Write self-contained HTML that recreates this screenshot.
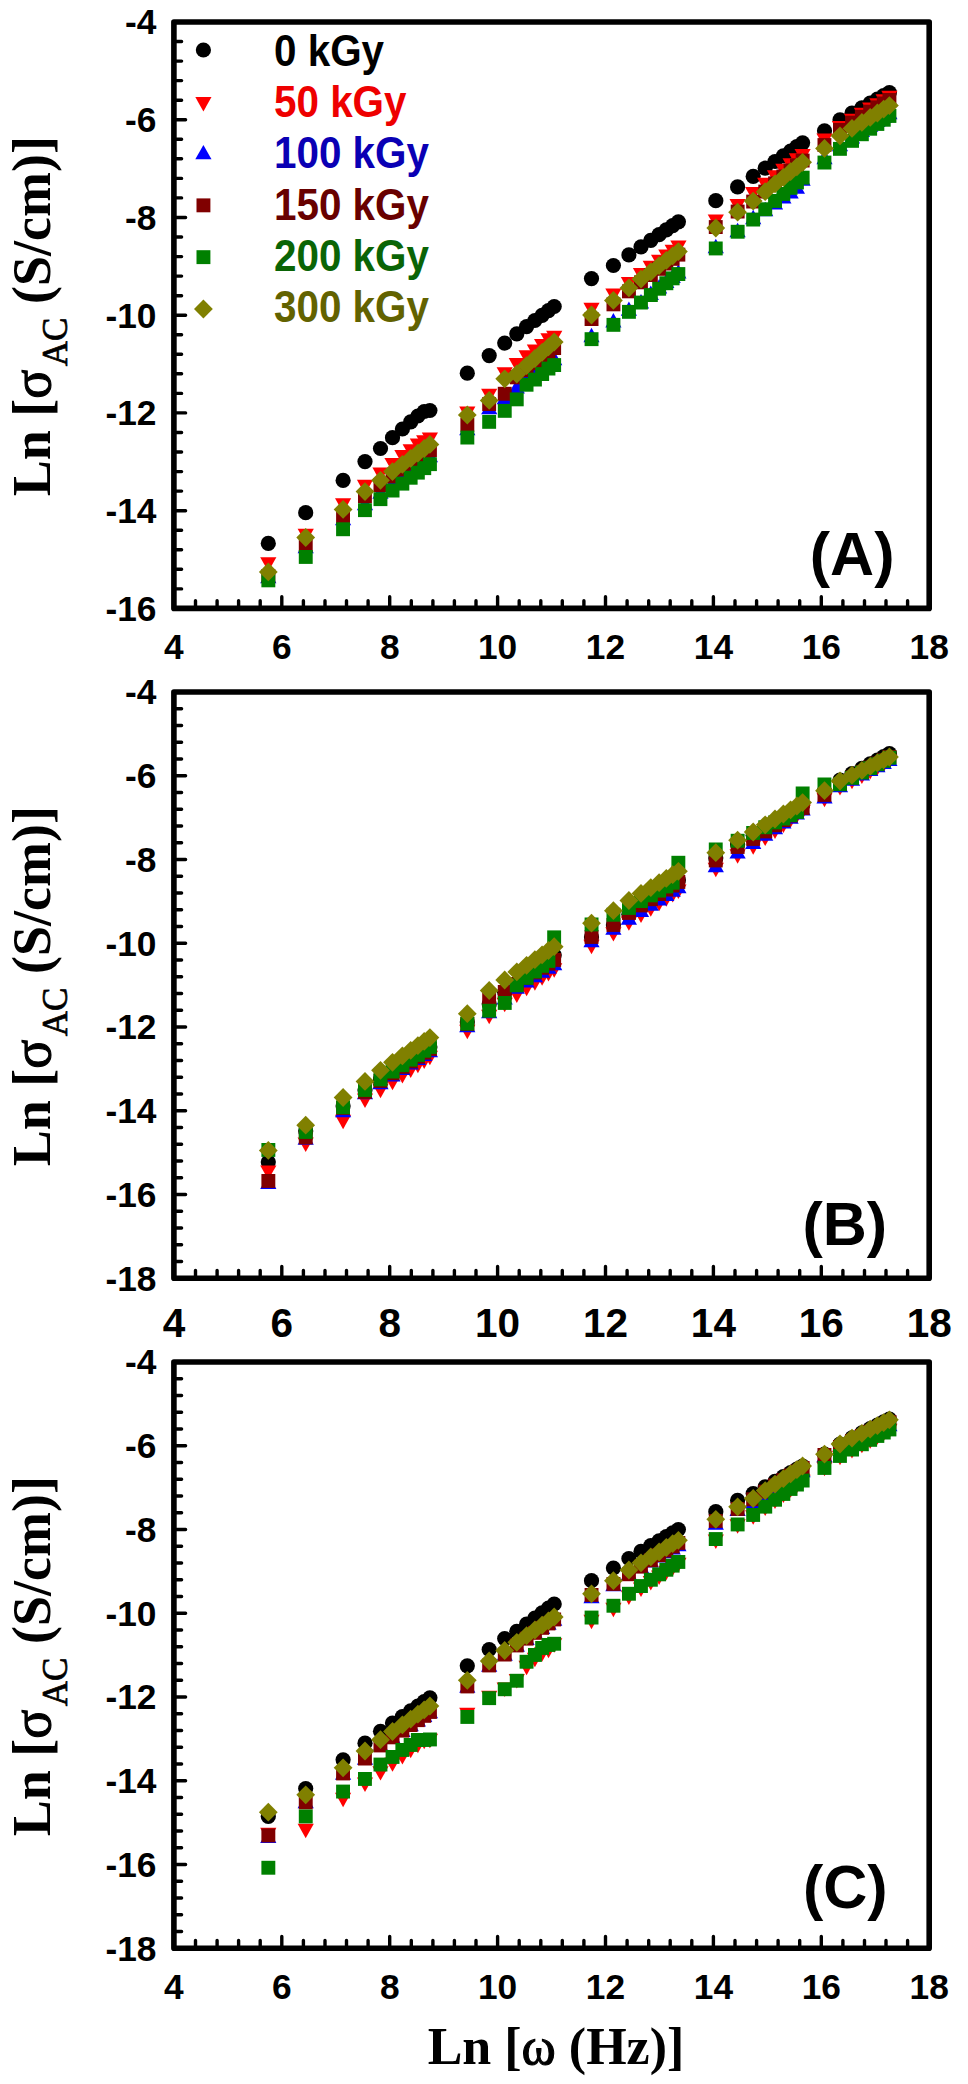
<!DOCTYPE html>
<html><head><meta charset="utf-8"><style>
html,body{margin:0;padding:0;background:#fff;}
svg{display:block;}
.tl{font-family:"Liberation Sans",sans-serif;font-weight:bold;font-size:35.3px;fill:#000;}
.lg{font-family:"Liberation Sans",sans-serif;font-weight:bold;font-size:40.4px;}
.pl{font-family:"Liberation Sans",sans-serif;font-weight:bold;font-size:61px;fill:#000;}
.sg{font-weight:normal;stroke:#000;stroke-width:1.1px;}
.sub{font-size:35px;font-weight:normal;stroke:#000;stroke-width:0.7px;}
.at{font-family:"Liberation Serif",serif;font-weight:bold;font-size:54px;fill:#000;}
</style></head><body>
<svg width="968" height="2084" viewBox="0 0 968 2084">
<path d="M173.9 41.5h7.7M173.9 61.1h7.7M173.9 80.6h7.7M173.9 100.2h7.7M173.9 119.7h11.7M173.9 139.3h7.7M173.9 158.8h7.7M173.9 178.4h7.7M173.9 197.9h7.7M173.9 217.5h11.7M173.9 237.0h7.7M173.9 256.6h7.7M173.9 276.1h7.7M173.9 295.7h7.7M173.9 315.2h11.7M173.9 334.7h7.7M173.9 354.3h7.7M173.9 373.8h7.7M173.9 393.4h7.7M173.9 412.9h11.7M173.9 432.5h7.7M173.9 452.0h7.7M173.9 471.6h7.7M173.9 491.1h7.7M173.9 510.7h11.7M173.9 530.2h7.7M173.9 549.8h7.7M173.9 569.3h7.7M173.9 588.9h7.7M195.5 608.4v-7.7M217.1 608.4v-7.7M238.6 608.4v-7.7M260.2 608.4v-7.7M281.8 608.4v-11.7M303.4 608.4v-7.7M325.0 608.4v-7.7M346.5 608.4v-7.7M368.1 608.4v-7.7M389.7 608.4v-11.7M411.3 608.4v-7.7M432.9 608.4v-7.7M454.4 608.4v-7.7M476.0 608.4v-7.7M497.6 608.4v-11.7M519.2 608.4v-7.7M540.8 608.4v-7.7M562.3 608.4v-7.7M583.9 608.4v-7.7M605.5 608.4v-11.7M627.1 608.4v-7.7M648.7 608.4v-7.7M670.2 608.4v-7.7M691.8 608.4v-7.7M713.4 608.4v-11.7M735.0 608.4v-7.7M756.6 608.4v-7.7M778.1 608.4v-7.7M799.7 608.4v-7.7M821.3 608.4v-11.7M842.9 608.4v-7.7M864.5 608.4v-7.7M886.0 608.4v-7.7M907.6 608.4v-7.7" stroke="#000" stroke-width="3.4" stroke-linecap="round" fill="none"/>
<rect x="173.9" y="22.0" width="755.3" height="586.4" fill="none" stroke="#000" stroke-width="5.6" stroke-linejoin="round"/>
<text x="156.5" y="34.4" class="tl" text-anchor="end">-4</text>
<text x="156.5" y="132.1" class="tl" text-anchor="end">-6</text>
<text x="156.5" y="229.9" class="tl" text-anchor="end">-8</text>
<text x="156.5" y="327.6" class="tl" text-anchor="end">-10</text>
<text x="156.5" y="425.3" class="tl" text-anchor="end">-12</text>
<text x="156.5" y="523.1" class="tl" text-anchor="end">-14</text>
<text x="156.5" y="620.8" class="tl" text-anchor="end">-16</text>
<text x="173.9" y="659.4" class="tl" text-anchor="middle">4</text>
<text x="281.8" y="659.4" class="tl" text-anchor="middle">6</text>
<text x="389.7" y="659.4" class="tl" text-anchor="middle">8</text>
<text x="497.6" y="659.4" class="tl" text-anchor="middle">10</text>
<text x="605.5" y="659.4" class="tl" text-anchor="middle">12</text>
<text x="713.4" y="659.4" class="tl" text-anchor="middle">14</text>
<text x="821.3" y="659.4" class="tl" text-anchor="middle">16</text>
<text x="929.2" y="659.4" class="tl" text-anchor="middle">18</text>
<circle cx="268.3" cy="543.4" r="7.6" fill="#000000"/>
<circle cx="305.7" cy="512.7" r="7.6" fill="#000000"/>
<circle cx="343.1" cy="480.4" r="7.6" fill="#000000"/>
<circle cx="365.0" cy="461.6" r="7.6" fill="#000000"/>
<circle cx="380.5" cy="448.5" r="7.6" fill="#000000"/>
<circle cx="392.5" cy="437.7" r="7.6" fill="#000000"/>
<circle cx="402.4" cy="429.0" r="7.6" fill="#000000"/>
<circle cx="410.7" cy="421.8" r="7.6" fill="#000000"/>
<circle cx="417.9" cy="416.0" r="7.6" fill="#000000"/>
<circle cx="424.2" cy="411.5" r="7.6" fill="#000000"/>
<circle cx="429.9" cy="410.5" r="7.6" fill="#000000"/>
<circle cx="467.3" cy="373.2" r="7.6" fill="#000000"/>
<circle cx="489.2" cy="355.6" r="7.6" fill="#000000"/>
<circle cx="504.7" cy="343.1" r="7.6" fill="#000000"/>
<circle cx="516.8" cy="333.8" r="7.6" fill="#000000"/>
<circle cx="526.6" cy="326.6" r="7.6" fill="#000000"/>
<circle cx="534.9" cy="320.5" r="7.6" fill="#000000"/>
<circle cx="542.1" cy="315.3" r="7.6" fill="#000000"/>
<circle cx="548.5" cy="310.6" r="7.6" fill="#000000"/>
<circle cx="554.2" cy="306.5" r="7.6" fill="#000000"/>
<circle cx="591.5" cy="278.6" r="7.6" fill="#000000"/>
<circle cx="613.4" cy="265.5" r="7.6" fill="#000000"/>
<circle cx="628.9" cy="254.9" r="7.6" fill="#000000"/>
<circle cx="641.0" cy="246.8" r="7.6" fill="#000000"/>
<circle cx="650.8" cy="240.3" r="7.6" fill="#000000"/>
<circle cx="659.1" cy="234.7" r="7.6" fill="#000000"/>
<circle cx="666.3" cy="229.9" r="7.6" fill="#000000"/>
<circle cx="672.7" cy="225.6" r="7.6" fill="#000000"/>
<circle cx="678.4" cy="221.8" r="7.6" fill="#000000"/>
<circle cx="715.8" cy="200.7" r="7.6" fill="#000000"/>
<circle cx="737.6" cy="186.9" r="7.6" fill="#000000"/>
<circle cx="753.2" cy="176.4" r="7.6" fill="#000000"/>
<circle cx="765.2" cy="168.2" r="7.6" fill="#000000"/>
<circle cx="775.0" cy="161.5" r="7.6" fill="#000000"/>
<circle cx="783.4" cy="155.9" r="7.6" fill="#000000"/>
<circle cx="790.6" cy="151.0" r="7.6" fill="#000000"/>
<circle cx="796.9" cy="146.7" r="7.6" fill="#000000"/>
<circle cx="802.6" cy="142.8" r="7.6" fill="#000000"/>
<circle cx="824.5" cy="130.8" r="7.6" fill="#000000"/>
<circle cx="840.0" cy="119.8" r="7.6" fill="#000000"/>
<circle cx="852.0" cy="113.2" r="7.6" fill="#000000"/>
<circle cx="861.9" cy="107.8" r="7.6" fill="#000000"/>
<circle cx="870.2" cy="103.2" r="7.6" fill="#000000"/>
<circle cx="877.4" cy="99.2" r="7.6" fill="#000000"/>
<circle cx="883.7" cy="95.7" r="7.6" fill="#000000"/>
<circle cx="889.4" cy="92.6" r="7.6" fill="#000000"/>
<path d="M260.2 557.2H276.4L268.3 571.6Z" fill="#FF0000"/>
<path d="M297.6 528.8H313.8L305.7 543.2Z" fill="#FF0000"/>
<path d="M335.0 498.3H351.2L343.1 512.7Z" fill="#FF0000"/>
<path d="M356.9 479.8H373.1L365.0 494.2Z" fill="#FF0000"/>
<path d="M372.4 467.5H388.6L380.5 481.9Z" fill="#FF0000"/>
<path d="M384.4 457.9H400.6L392.5 472.3Z" fill="#FF0000"/>
<path d="M394.3 450.1H410.5L402.4 464.5Z" fill="#FF0000"/>
<path d="M402.6 444.2H418.8L410.7 458.6Z" fill="#FF0000"/>
<path d="M409.8 438.4H426.0L417.9 452.8Z" fill="#FF0000"/>
<path d="M416.1 435.2H432.3L424.2 449.6Z" fill="#FF0000"/>
<path d="M421.8 432.4H438.0L429.9 446.8Z" fill="#FF0000"/>
<path d="M459.2 406.6H475.4L467.3 421.0Z" fill="#FF0000"/>
<path d="M481.1 388.7H497.3L489.2 403.1Z" fill="#FF0000"/>
<path d="M496.6 367.2H512.8L504.7 381.6Z" fill="#FF0000"/>
<path d="M508.7 358.1H524.9L516.8 372.5Z" fill="#FF0000"/>
<path d="M518.5 350.3H534.7L526.6 364.7Z" fill="#FF0000"/>
<path d="M526.8 344.5H543.0L534.9 358.9Z" fill="#FF0000"/>
<path d="M534.0 339.1H550.2L542.1 353.5Z" fill="#FF0000"/>
<path d="M540.4 333.3H556.6L548.5 347.7Z" fill="#FF0000"/>
<path d="M546.1 330.8H562.3L554.2 345.2Z" fill="#FF0000"/>
<path d="M583.4 302.8H599.6L591.5 317.2Z" fill="#FF0000"/>
<path d="M605.3 288.4H621.5L613.4 302.8Z" fill="#FF0000"/>
<path d="M620.8 277.0H637.0L628.9 291.4Z" fill="#FF0000"/>
<path d="M632.9 268.1H649.1L641.0 282.5Z" fill="#FF0000"/>
<path d="M642.7 260.8H658.9L650.8 275.2Z" fill="#FF0000"/>
<path d="M651.0 254.7H667.2L659.1 269.1Z" fill="#FF0000"/>
<path d="M658.2 249.4H674.4L666.3 263.8Z" fill="#FF0000"/>
<path d="M664.6 244.7H680.8L672.7 259.1Z" fill="#FF0000"/>
<path d="M670.3 240.5H686.5L678.4 254.9Z" fill="#FF0000"/>
<path d="M707.7 214.4H723.9L715.8 228.8Z" fill="#FF0000"/>
<path d="M729.5 199.1H745.7L737.6 213.5Z" fill="#FF0000"/>
<path d="M745.1 187.1H761.3L753.2 201.5Z" fill="#FF0000"/>
<path d="M757.1 177.8H773.3L765.2 192.2Z" fill="#FF0000"/>
<path d="M766.9 170.2H783.1L775.0 184.6Z" fill="#FF0000"/>
<path d="M775.3 163.8H791.5L783.4 178.2Z" fill="#FF0000"/>
<path d="M782.5 158.2H798.7L790.6 172.6Z" fill="#FF0000"/>
<path d="M788.8 153.3H805.0L796.9 167.7Z" fill="#FF0000"/>
<path d="M794.5 148.9H810.7L802.6 163.3Z" fill="#FF0000"/>
<path d="M816.4 133.6H832.6L824.5 148.0Z" fill="#FF0000"/>
<path d="M831.9 121.1H848.1L840.0 135.5Z" fill="#FF0000"/>
<path d="M843.9 113.7H860.1L852.0 128.1Z" fill="#FF0000"/>
<path d="M853.8 107.7H870.0L861.9 122.1Z" fill="#FF0000"/>
<path d="M862.1 102.6H878.3L870.2 117.0Z" fill="#FF0000"/>
<path d="M869.3 98.2H885.5L877.4 112.6Z" fill="#FF0000"/>
<path d="M875.6 94.3H891.8L883.7 108.7Z" fill="#FF0000"/>
<path d="M881.3 90.8H897.5L889.4 105.2Z" fill="#FF0000"/>
<path d="M260.2 583.2H276.4L268.3 568.8Z" fill="#0000FF"/>
<path d="M297.6 553.2H313.8L305.7 538.8Z" fill="#0000FF"/>
<path d="M335.0 525.2H351.2L343.1 510.8Z" fill="#0000FF"/>
<path d="M356.9 510.2H373.1L365.0 495.8Z" fill="#0000FF"/>
<path d="M372.4 498.7H388.6L380.5 484.3Z" fill="#0000FF"/>
<path d="M384.4 489.8H400.6L392.5 475.4Z" fill="#0000FF"/>
<path d="M394.3 482.6H410.5L402.4 468.2Z" fill="#0000FF"/>
<path d="M402.6 476.4H418.8L410.7 462.0Z" fill="#0000FF"/>
<path d="M409.8 471.1H426.0L417.9 456.7Z" fill="#0000FF"/>
<path d="M416.1 466.4H432.3L424.2 452.0Z" fill="#0000FF"/>
<path d="M421.8 462.2H438.0L429.9 447.8Z" fill="#0000FF"/>
<path d="M459.2 435.2H475.4L467.3 420.8Z" fill="#0000FF"/>
<path d="M481.1 414.2H497.3L489.2 399.8Z" fill="#0000FF"/>
<path d="M496.6 404.2H512.8L504.7 389.8Z" fill="#0000FF"/>
<path d="M508.7 393.5H524.9L516.8 379.1Z" fill="#0000FF"/>
<path d="M518.5 386.1H534.7L526.6 371.7Z" fill="#0000FF"/>
<path d="M526.8 379.8H543.0L534.9 365.4Z" fill="#0000FF"/>
<path d="M534.0 374.3H550.2L542.1 359.9Z" fill="#0000FF"/>
<path d="M540.4 369.5H556.6L548.5 355.1Z" fill="#0000FF"/>
<path d="M546.1 365.2H562.3L554.2 350.8Z" fill="#0000FF"/>
<path d="M583.4 342.2H599.6L591.5 327.8Z" fill="#0000FF"/>
<path d="M605.3 327.5H621.5L613.4 313.1Z" fill="#0000FF"/>
<path d="M620.8 315.8H637.0L628.9 301.4Z" fill="#0000FF"/>
<path d="M632.9 308.4H649.1L641.0 294.0Z" fill="#0000FF"/>
<path d="M642.7 300.0H658.9L650.8 285.6Z" fill="#0000FF"/>
<path d="M651.0 293.5H667.2L659.1 279.1Z" fill="#0000FF"/>
<path d="M658.2 287.9H674.4L666.3 273.5Z" fill="#0000FF"/>
<path d="M664.6 283.0H680.8L672.7 268.6Z" fill="#0000FF"/>
<path d="M670.3 278.6H686.5L678.4 264.2Z" fill="#0000FF"/>
<path d="M707.7 253.2H723.9L715.8 238.8Z" fill="#0000FF"/>
<path d="M729.5 237.2H745.7L737.6 222.8Z" fill="#0000FF"/>
<path d="M745.1 224.2H761.3L753.2 209.8Z" fill="#0000FF"/>
<path d="M757.1 216.2H773.3L765.2 201.8Z" fill="#0000FF"/>
<path d="M766.9 209.6H783.1L775.0 195.2Z" fill="#0000FF"/>
<path d="M775.3 203.6H791.5L783.4 189.2Z" fill="#0000FF"/>
<path d="M782.5 198.4H798.7L790.6 184.0Z" fill="#0000FF"/>
<path d="M788.8 193.8H805.0L796.9 179.4Z" fill="#0000FF"/>
<path d="M794.5 185.7H810.7L802.6 171.3Z" fill="#0000FF"/>
<path d="M816.4 164.2H832.6L824.5 149.8Z" fill="#0000FF"/>
<path d="M831.9 151.2H848.1L840.0 136.8Z" fill="#0000FF"/>
<path d="M843.9 143.4H860.1L852.0 129.0Z" fill="#0000FF"/>
<path d="M853.8 137.0H870.0L861.9 122.6Z" fill="#0000FF"/>
<path d="M862.1 131.7H878.3L870.2 117.3Z" fill="#0000FF"/>
<path d="M869.3 127.0H885.5L877.4 112.6Z" fill="#0000FF"/>
<path d="M875.6 122.9H891.8L883.7 108.5Z" fill="#0000FF"/>
<path d="M881.3 119.2H897.5L889.4 104.8Z" fill="#0000FF"/>
<rect x="261.4" y="569.0" width="13.9" height="13.9" fill="#800000"/>
<rect x="298.8" y="538.0" width="13.9" height="13.9" fill="#800000"/>
<rect x="336.1" y="509.4" width="13.9" height="13.9" fill="#800000"/>
<rect x="358.0" y="489.1" width="13.9" height="13.9" fill="#800000"/>
<rect x="373.5" y="478.1" width="13.9" height="13.9" fill="#800000"/>
<rect x="385.6" y="469.5" width="13.9" height="13.9" fill="#800000"/>
<rect x="395.4" y="462.6" width="13.9" height="13.9" fill="#800000"/>
<rect x="403.7" y="456.7" width="13.9" height="13.9" fill="#800000"/>
<rect x="410.9" y="451.6" width="13.9" height="13.9" fill="#800000"/>
<rect x="417.3" y="447.1" width="13.9" height="13.9" fill="#800000"/>
<rect x="423.0" y="443.1" width="13.9" height="13.9" fill="#800000"/>
<rect x="460.4" y="417.8" width="13.9" height="13.9" fill="#800000"/>
<rect x="482.2" y="397.1" width="13.9" height="13.9" fill="#800000"/>
<rect x="497.8" y="386.8" width="13.9" height="13.9" fill="#800000"/>
<rect x="509.8" y="370.4" width="13.9" height="13.9" fill="#800000"/>
<rect x="519.6" y="363.1" width="13.9" height="13.9" fill="#800000"/>
<rect x="528.0" y="356.4" width="13.9" height="13.9" fill="#800000"/>
<rect x="535.2" y="350.7" width="13.9" height="13.9" fill="#800000"/>
<rect x="541.5" y="345.6" width="13.9" height="13.9" fill="#800000"/>
<rect x="547.2" y="341.1" width="13.9" height="13.9" fill="#800000"/>
<rect x="584.6" y="312.1" width="13.9" height="13.9" fill="#800000"/>
<rect x="606.5" y="297.4" width="13.9" height="13.9" fill="#800000"/>
<rect x="622.0" y="284.4" width="13.9" height="13.9" fill="#800000"/>
<rect x="634.0" y="275.4" width="13.9" height="13.9" fill="#800000"/>
<rect x="643.9" y="268.1" width="13.9" height="13.9" fill="#800000"/>
<rect x="652.2" y="261.9" width="13.9" height="13.9" fill="#800000"/>
<rect x="659.4" y="256.6" width="13.9" height="13.9" fill="#800000"/>
<rect x="665.7" y="251.9" width="13.9" height="13.9" fill="#800000"/>
<rect x="671.4" y="247.7" width="13.9" height="13.9" fill="#800000"/>
<rect x="708.8" y="220.1" width="13.9" height="13.9" fill="#800000"/>
<rect x="730.7" y="204.6" width="13.9" height="13.9" fill="#800000"/>
<rect x="746.2" y="194.6" width="13.9" height="13.9" fill="#800000"/>
<rect x="758.3" y="184.6" width="13.9" height="13.9" fill="#800000"/>
<rect x="768.1" y="176.4" width="13.9" height="13.9" fill="#800000"/>
<rect x="776.4" y="169.5" width="13.9" height="13.9" fill="#800000"/>
<rect x="783.6" y="163.5" width="13.9" height="13.9" fill="#800000"/>
<rect x="790.0" y="158.3" width="13.9" height="13.9" fill="#800000"/>
<rect x="795.7" y="153.6" width="13.9" height="13.9" fill="#800000"/>
<rect x="817.5" y="138.1" width="13.9" height="13.9" fill="#800000"/>
<rect x="833.0" y="123.0" width="13.9" height="13.9" fill="#800000"/>
<rect x="845.1" y="115.7" width="13.9" height="13.9" fill="#800000"/>
<rect x="854.9" y="109.8" width="13.9" height="13.9" fill="#800000"/>
<rect x="863.2" y="104.7" width="13.9" height="13.9" fill="#800000"/>
<rect x="870.4" y="100.4" width="13.9" height="13.9" fill="#800000"/>
<rect x="876.8" y="96.5" width="13.9" height="13.9" fill="#800000"/>
<rect x="882.5" y="93.0" width="13.9" height="13.9" fill="#800000"/>
<rect x="261.4" y="573.4" width="13.9" height="13.9" fill="#008000"/>
<rect x="298.8" y="550.0" width="13.9" height="13.9" fill="#008000"/>
<rect x="336.1" y="522.3" width="13.9" height="13.9" fill="#008000"/>
<rect x="358.0" y="503.2" width="13.9" height="13.9" fill="#008000"/>
<rect x="373.5" y="492.2" width="13.9" height="13.9" fill="#008000"/>
<rect x="385.6" y="483.6" width="13.9" height="13.9" fill="#008000"/>
<rect x="395.4" y="476.7" width="13.9" height="13.9" fill="#008000"/>
<rect x="403.7" y="470.8" width="13.9" height="13.9" fill="#008000"/>
<rect x="410.9" y="465.7" width="13.9" height="13.9" fill="#008000"/>
<rect x="417.3" y="461.2" width="13.9" height="13.9" fill="#008000"/>
<rect x="423.0" y="457.2" width="13.9" height="13.9" fill="#008000"/>
<rect x="460.4" y="430.6" width="13.9" height="13.9" fill="#008000"/>
<rect x="482.2" y="414.9" width="13.9" height="13.9" fill="#008000"/>
<rect x="497.8" y="403.9" width="13.9" height="13.9" fill="#008000"/>
<rect x="509.8" y="392.4" width="13.9" height="13.9" fill="#008000"/>
<rect x="519.6" y="377.8" width="13.9" height="13.9" fill="#008000"/>
<rect x="528.0" y="372.6" width="13.9" height="13.9" fill="#008000"/>
<rect x="535.2" y="367.1" width="13.9" height="13.9" fill="#008000"/>
<rect x="541.5" y="361.6" width="13.9" height="13.9" fill="#008000"/>
<rect x="547.2" y="358.1" width="13.9" height="13.9" fill="#008000"/>
<rect x="584.6" y="332.2" width="13.9" height="13.9" fill="#008000"/>
<rect x="606.5" y="317.9" width="13.9" height="13.9" fill="#008000"/>
<rect x="622.0" y="304.9" width="13.9" height="13.9" fill="#008000"/>
<rect x="634.0" y="295.6" width="13.9" height="13.9" fill="#008000"/>
<rect x="643.9" y="288.1" width="13.9" height="13.9" fill="#008000"/>
<rect x="652.2" y="281.8" width="13.9" height="13.9" fill="#008000"/>
<rect x="659.4" y="276.3" width="13.9" height="13.9" fill="#008000"/>
<rect x="665.7" y="271.4" width="13.9" height="13.9" fill="#008000"/>
<rect x="671.4" y="267.1" width="13.9" height="13.9" fill="#008000"/>
<rect x="708.8" y="241.5" width="13.9" height="13.9" fill="#008000"/>
<rect x="730.7" y="224.8" width="13.9" height="13.9" fill="#008000"/>
<rect x="746.2" y="212.6" width="13.9" height="13.9" fill="#008000"/>
<rect x="758.3" y="202.3" width="13.9" height="13.9" fill="#008000"/>
<rect x="768.1" y="194.0" width="13.9" height="13.9" fill="#008000"/>
<rect x="776.4" y="187.0" width="13.9" height="13.9" fill="#008000"/>
<rect x="783.6" y="180.9" width="13.9" height="13.9" fill="#008000"/>
<rect x="790.0" y="175.5" width="13.9" height="13.9" fill="#008000"/>
<rect x="795.7" y="170.7" width="13.9" height="13.9" fill="#008000"/>
<rect x="817.5" y="155.6" width="13.9" height="13.9" fill="#008000"/>
<rect x="833.0" y="141.9" width="13.9" height="13.9" fill="#008000"/>
<rect x="845.1" y="133.9" width="13.9" height="13.9" fill="#008000"/>
<rect x="854.9" y="127.3" width="13.9" height="13.9" fill="#008000"/>
<rect x="863.2" y="121.8" width="13.9" height="13.9" fill="#008000"/>
<rect x="870.4" y="117.0" width="13.9" height="13.9" fill="#008000"/>
<rect x="876.8" y="112.8" width="13.9" height="13.9" fill="#008000"/>
<rect x="882.5" y="109.0" width="13.9" height="13.9" fill="#008000"/>
<path d="M268.3 562.5L277.7 571.9L268.3 581.3L258.9 571.9Z" fill="#808000"/>
<path d="M305.7 528.1L315.1 537.5L305.7 546.9L296.3 537.5Z" fill="#808000"/>
<path d="M343.1 500.0L352.5 509.4L343.1 518.8L333.7 509.4Z" fill="#808000"/>
<path d="M365.0 482.2L374.4 491.6L365.0 501.0L355.6 491.6Z" fill="#808000"/>
<path d="M380.5 470.9L389.9 480.3L380.5 489.7L371.1 480.3Z" fill="#808000"/>
<path d="M392.5 462.2L401.9 471.6L392.5 481.0L383.1 471.6Z" fill="#808000"/>
<path d="M402.4 455.0L411.8 464.4L402.4 473.8L393.0 464.4Z" fill="#808000"/>
<path d="M410.7 449.0L420.1 458.4L410.7 467.8L401.3 458.4Z" fill="#808000"/>
<path d="M417.9 443.7L427.3 453.1L417.9 462.5L408.5 453.1Z" fill="#808000"/>
<path d="M424.2 439.1L433.6 448.5L424.2 457.9L414.8 448.5Z" fill="#808000"/>
<path d="M429.9 435.0L439.3 444.4L429.9 453.8L420.5 444.4Z" fill="#808000"/>
<path d="M467.3 405.6L476.7 415.0L467.3 424.4L457.9 415.0Z" fill="#808000"/>
<path d="M489.2 391.0L498.6 400.4L489.2 409.8L479.8 400.4Z" fill="#808000"/>
<path d="M504.7 369.4L514.1 378.8L504.7 388.2L495.3 378.8Z" fill="#808000"/>
<path d="M516.8 364.6L526.2 374.0L516.8 383.4L507.4 374.0Z" fill="#808000"/>
<path d="M526.6 356.2L536.0 365.6L526.6 375.0L517.2 365.6Z" fill="#808000"/>
<path d="M534.9 349.1L544.3 358.5L534.9 367.9L525.5 358.5Z" fill="#808000"/>
<path d="M542.1 342.9L551.5 352.3L542.1 361.7L532.7 352.3Z" fill="#808000"/>
<path d="M548.5 337.5L557.9 346.9L548.5 356.3L539.1 346.9Z" fill="#808000"/>
<path d="M554.2 332.6L563.6 342.0L554.2 351.4L544.8 342.0Z" fill="#808000"/>
<path d="M591.5 305.6L600.9 315.0L591.5 324.4L582.1 315.0Z" fill="#808000"/>
<path d="M613.4 291.0L622.8 300.4L613.4 309.8L604.0 300.4Z" fill="#808000"/>
<path d="M628.9 278.5L638.3 287.9L628.9 297.3L619.5 287.9Z" fill="#808000"/>
<path d="M641.0 269.7L650.4 279.1L641.0 288.5L631.6 279.1Z" fill="#808000"/>
<path d="M650.8 262.4L660.2 271.8L650.8 281.2L641.4 271.8Z" fill="#808000"/>
<path d="M659.1 256.3L668.5 265.7L659.1 275.1L649.7 265.7Z" fill="#808000"/>
<path d="M666.3 251.0L675.7 260.4L666.3 269.8L656.9 260.4Z" fill="#808000"/>
<path d="M672.7 246.4L682.1 255.8L672.7 265.2L663.3 255.8Z" fill="#808000"/>
<path d="M678.4 242.2L687.8 251.6L678.4 261.0L669.0 251.6Z" fill="#808000"/>
<path d="M715.8 218.6L725.2 228.0L715.8 237.4L706.4 228.0Z" fill="#808000"/>
<path d="M737.6 202.8L747.0 212.2L737.6 221.6L728.2 212.2Z" fill="#808000"/>
<path d="M753.2 191.7L762.6 201.1L753.2 210.5L743.8 201.1Z" fill="#808000"/>
<path d="M765.2 182.3L774.6 191.7L765.2 201.1L755.8 191.7Z" fill="#808000"/>
<path d="M775.0 174.5L784.4 183.9L775.0 193.3L765.6 183.9Z" fill="#808000"/>
<path d="M783.4 168.0L792.8 177.4L783.4 186.8L774.0 177.4Z" fill="#808000"/>
<path d="M790.6 162.3L800.0 171.7L790.6 181.1L781.2 171.7Z" fill="#808000"/>
<path d="M796.9 157.4L806.3 166.8L796.9 176.2L787.5 166.8Z" fill="#808000"/>
<path d="M802.6 152.9L812.0 162.3L802.6 171.7L793.2 162.3Z" fill="#808000"/>
<path d="M824.5 139.0L833.9 148.4L824.5 157.8L815.1 148.4Z" fill="#808000"/>
<path d="M840.0 126.4L849.4 135.8L840.0 145.2L830.6 135.8Z" fill="#808000"/>
<path d="M852.0 119.0L861.4 128.4L852.0 137.8L842.6 128.4Z" fill="#808000"/>
<path d="M861.9 113.0L871.3 122.4L861.9 131.8L852.5 122.4Z" fill="#808000"/>
<path d="M870.2 108.0L879.6 117.4L870.2 126.8L860.8 117.4Z" fill="#808000"/>
<path d="M877.4 103.6L886.8 113.0L877.4 122.4L868.0 113.0Z" fill="#808000"/>
<path d="M883.7 99.7L893.1 109.1L883.7 118.5L874.3 109.1Z" fill="#808000"/>
<path d="M889.4 96.2L898.8 105.6L889.4 115.0L880.0 105.6Z" fill="#808000"/>
<path d="M173.9 708.7h7.7M173.9 725.5h7.7M173.9 742.2h7.7M173.9 759.0h7.7M173.9 775.7h11.7M173.9 792.5h7.7M173.9 809.2h7.7M173.9 826.0h7.7M173.9 842.7h7.7M173.9 859.5h11.7M173.9 876.2h7.7M173.9 893.0h7.7M173.9 909.7h7.7M173.9 926.5h7.7M173.9 943.2h11.7M173.9 960.0h7.7M173.9 976.7h7.7M173.9 993.5h7.7M173.9 1010.2h7.7M173.9 1027.0h11.7M173.9 1043.7h7.7M173.9 1060.5h7.7M173.9 1077.2h7.7M173.9 1094.0h7.7M173.9 1110.7h11.7M173.9 1127.5h7.7M173.9 1144.2h7.7M173.9 1161.0h7.7M173.9 1177.7h7.7M173.9 1194.5h11.7M173.9 1211.2h7.7M173.9 1228.0h7.7M173.9 1244.7h7.7M173.9 1261.5h7.7M195.5 1278.2v-7.7M217.1 1278.2v-7.7M238.6 1278.2v-7.7M260.2 1278.2v-7.7M281.8 1278.2v-11.7M303.4 1278.2v-7.7M325.0 1278.2v-7.7M346.5 1278.2v-7.7M368.1 1278.2v-7.7M389.7 1278.2v-11.7M411.3 1278.2v-7.7M432.9 1278.2v-7.7M454.4 1278.2v-7.7M476.0 1278.2v-7.7M497.6 1278.2v-11.7M519.2 1278.2v-7.7M540.8 1278.2v-7.7M562.3 1278.2v-7.7M583.9 1278.2v-7.7M605.5 1278.2v-11.7M627.1 1278.2v-7.7M648.7 1278.2v-7.7M670.2 1278.2v-7.7M691.8 1278.2v-7.7M713.4 1278.2v-11.7M735.0 1278.2v-7.7M756.6 1278.2v-7.7M778.1 1278.2v-7.7M799.7 1278.2v-7.7M821.3 1278.2v-11.7M842.9 1278.2v-7.7M864.5 1278.2v-7.7M886.0 1278.2v-7.7M907.6 1278.2v-7.7" stroke="#000" stroke-width="3.4" stroke-linecap="round" fill="none"/>
<rect x="173.9" y="692.0" width="755.3" height="586.2" fill="none" stroke="#000" stroke-width="5.6" stroke-linejoin="round"/>
<text x="156.5" y="704.4" class="tl" text-anchor="end">-4</text>
<text x="156.5" y="788.1" class="tl" text-anchor="end">-6</text>
<text x="156.5" y="871.9" class="tl" text-anchor="end">-8</text>
<text x="156.5" y="955.6" class="tl" text-anchor="end">-10</text>
<text x="156.5" y="1039.4" class="tl" text-anchor="end">-12</text>
<text x="156.5" y="1123.1" class="tl" text-anchor="end">-14</text>
<text x="156.5" y="1206.9" class="tl" text-anchor="end">-16</text>
<text x="156.5" y="1290.6" class="tl" text-anchor="end">-18</text>
<text x="173.9" y="1337.4" class="tl" style="font-size:40.5px" text-anchor="middle">4</text>
<text x="281.8" y="1337.4" class="tl" style="font-size:40.5px" text-anchor="middle">6</text>
<text x="389.7" y="1337.4" class="tl" style="font-size:40.5px" text-anchor="middle">8</text>
<text x="497.6" y="1337.4" class="tl" style="font-size:40.5px" text-anchor="middle">10</text>
<text x="605.5" y="1337.4" class="tl" style="font-size:40.5px" text-anchor="middle">12</text>
<text x="713.4" y="1337.4" class="tl" style="font-size:40.5px" text-anchor="middle">14</text>
<text x="821.3" y="1337.4" class="tl" style="font-size:40.5px" text-anchor="middle">16</text>
<text x="929.2" y="1337.4" class="tl" style="font-size:40.5px" text-anchor="middle">18</text>
<circle cx="268.3" cy="1162.0" r="7.6" fill="#000000"/>
<circle cx="305.7" cy="1131.0" r="7.6" fill="#000000"/>
<circle cx="343.1" cy="1106.0" r="7.6" fill="#000000"/>
<circle cx="365.0" cy="1090.0" r="7.6" fill="#000000"/>
<circle cx="380.5" cy="1079.7" r="7.6" fill="#000000"/>
<circle cx="392.5" cy="1071.8" r="7.6" fill="#000000"/>
<circle cx="402.4" cy="1065.2" r="7.6" fill="#000000"/>
<circle cx="410.7" cy="1059.7" r="7.6" fill="#000000"/>
<circle cx="417.9" cy="1055.0" r="7.6" fill="#000000"/>
<circle cx="424.2" cy="1050.8" r="7.6" fill="#000000"/>
<circle cx="429.9" cy="1047.0" r="7.6" fill="#000000"/>
<circle cx="467.3" cy="1022.0" r="7.6" fill="#000000"/>
<circle cx="489.2" cy="1004.0" r="7.6" fill="#000000"/>
<circle cx="504.7" cy="992.3" r="7.6" fill="#000000"/>
<circle cx="516.8" cy="983.2" r="7.6" fill="#000000"/>
<circle cx="526.6" cy="975.8" r="7.6" fill="#000000"/>
<circle cx="534.9" cy="969.5" r="7.6" fill="#000000"/>
<circle cx="542.1" cy="964.1" r="7.6" fill="#000000"/>
<circle cx="548.5" cy="959.3" r="7.6" fill="#000000"/>
<circle cx="554.2" cy="955.0" r="7.6" fill="#000000"/>
<circle cx="591.5" cy="937.0" r="7.6" fill="#000000"/>
<circle cx="613.4" cy="925.0" r="7.6" fill="#000000"/>
<circle cx="628.9" cy="914.2" r="7.6" fill="#000000"/>
<circle cx="641.0" cy="905.9" r="7.6" fill="#000000"/>
<circle cx="650.8" cy="899.1" r="7.6" fill="#000000"/>
<circle cx="659.1" cy="893.3" r="7.6" fill="#000000"/>
<circle cx="666.3" cy="888.3" r="7.6" fill="#000000"/>
<circle cx="672.7" cy="883.9" r="7.6" fill="#000000"/>
<circle cx="678.4" cy="880.0" r="7.6" fill="#000000"/>
<circle cx="715.8" cy="858.0" r="7.6" fill="#000000"/>
<circle cx="737.6" cy="844.6" r="7.6" fill="#000000"/>
<circle cx="753.2" cy="835.2" r="7.6" fill="#000000"/>
<circle cx="765.2" cy="827.8" r="7.6" fill="#000000"/>
<circle cx="775.0" cy="821.8" r="7.6" fill="#000000"/>
<circle cx="783.4" cy="816.7" r="7.6" fill="#000000"/>
<circle cx="790.6" cy="812.3" r="7.6" fill="#000000"/>
<circle cx="796.9" cy="808.5" r="7.6" fill="#000000"/>
<circle cx="802.6" cy="805.0" r="7.6" fill="#000000"/>
<circle cx="824.5" cy="791.0" r="7.6" fill="#000000"/>
<circle cx="840.0" cy="780.2" r="7.6" fill="#000000"/>
<circle cx="852.0" cy="773.7" r="7.6" fill="#000000"/>
<circle cx="861.9" cy="768.4" r="7.6" fill="#000000"/>
<circle cx="870.2" cy="763.9" r="7.6" fill="#000000"/>
<circle cx="877.4" cy="760.0" r="7.6" fill="#000000"/>
<circle cx="883.7" cy="756.6" r="7.6" fill="#000000"/>
<circle cx="889.4" cy="753.5" r="7.6" fill="#000000"/>
<path d="M260.2 1165.4H276.4L268.3 1179.8Z" fill="#FF0000"/>
<path d="M297.6 1137.5H313.8L305.7 1151.9Z" fill="#FF0000"/>
<path d="M335.0 1114.8H351.2L343.1 1129.2Z" fill="#FF0000"/>
<path d="M356.9 1093.5H373.1L365.0 1107.9Z" fill="#FF0000"/>
<path d="M372.4 1083.8H388.6L380.5 1098.2Z" fill="#FF0000"/>
<path d="M384.4 1075.8H400.6L392.5 1090.2Z" fill="#FF0000"/>
<path d="M394.3 1069.2H410.5L402.4 1083.6Z" fill="#FF0000"/>
<path d="M402.6 1063.6H418.8L410.7 1078.0Z" fill="#FF0000"/>
<path d="M409.8 1058.8H426.0L417.9 1073.2Z" fill="#FF0000"/>
<path d="M416.1 1054.6H432.3L424.2 1069.0Z" fill="#FF0000"/>
<path d="M421.8 1050.8H438.0L429.9 1065.2Z" fill="#FF0000"/>
<path d="M459.2 1024.8H475.4L467.3 1039.2Z" fill="#FF0000"/>
<path d="M481.1 1009.8H497.3L489.2 1024.2Z" fill="#FF0000"/>
<path d="M496.6 997.8H512.8L504.7 1012.2Z" fill="#FF0000"/>
<path d="M508.7 988.5H524.9L516.8 1002.9Z" fill="#FF0000"/>
<path d="M518.5 981.9H534.7L526.6 996.3Z" fill="#FF0000"/>
<path d="M526.8 976.3H543.0L534.9 990.7Z" fill="#FF0000"/>
<path d="M534.0 971.4H550.2L542.1 985.8Z" fill="#FF0000"/>
<path d="M540.4 967.1H556.6L548.5 981.5Z" fill="#FF0000"/>
<path d="M546.1 963.3H562.3L554.2 977.7Z" fill="#FF0000"/>
<path d="M583.4 939.8H599.6L591.5 954.2Z" fill="#FF0000"/>
<path d="M605.3 927.2H621.5L613.4 941.6Z" fill="#FF0000"/>
<path d="M620.8 916.4H637.0L628.9 930.8Z" fill="#FF0000"/>
<path d="M632.9 908.6H649.1L641.0 923.0Z" fill="#FF0000"/>
<path d="M642.7 902.3H658.9L650.8 916.7Z" fill="#FF0000"/>
<path d="M651.0 896.9H667.2L659.1 911.3Z" fill="#FF0000"/>
<path d="M658.2 892.3H674.4L666.3 906.7Z" fill="#FF0000"/>
<path d="M664.6 888.2H680.8L672.7 902.6Z" fill="#FF0000"/>
<path d="M670.3 884.5H686.5L678.4 898.9Z" fill="#FF0000"/>
<path d="M707.7 862.8H723.9L715.8 877.2Z" fill="#FF0000"/>
<path d="M729.5 849.3H745.7L737.6 863.7Z" fill="#FF0000"/>
<path d="M745.1 840.3H761.3L753.2 854.7Z" fill="#FF0000"/>
<path d="M757.1 831.7H773.3L765.2 846.1Z" fill="#FF0000"/>
<path d="M766.9 824.6H783.1L775.0 839.0Z" fill="#FF0000"/>
<path d="M775.3 818.6H791.5L783.4 833.0Z" fill="#FF0000"/>
<path d="M782.5 813.4H798.7L790.6 827.8Z" fill="#FF0000"/>
<path d="M788.8 808.9H805.0L796.9 823.3Z" fill="#FF0000"/>
<path d="M794.5 804.8H810.7L802.6 819.2Z" fill="#FF0000"/>
<path d="M816.4 792.8H832.6L824.5 807.2Z" fill="#FF0000"/>
<path d="M831.9 781.2H848.1L840.0 795.6Z" fill="#FF0000"/>
<path d="M843.9 774.8H860.1L852.0 789.2Z" fill="#FF0000"/>
<path d="M853.8 769.5H870.0L861.9 783.9Z" fill="#FF0000"/>
<path d="M862.1 765.1H878.3L870.2 779.5Z" fill="#FF0000"/>
<path d="M869.3 761.2H885.5L877.4 775.6Z" fill="#FF0000"/>
<path d="M875.6 757.8H891.8L883.7 772.2Z" fill="#FF0000"/>
<path d="M881.3 754.8H897.5L889.4 769.2Z" fill="#FF0000"/>
<path d="M260.2 1188.9H276.4L268.3 1174.5Z" fill="#0000FF"/>
<path d="M297.6 1144.7H313.8L305.7 1130.3Z" fill="#0000FF"/>
<path d="M335.0 1117.2H351.2L343.1 1102.8Z" fill="#0000FF"/>
<path d="M356.9 1099.2H373.1L365.0 1084.8Z" fill="#0000FF"/>
<path d="M372.4 1089.2H388.6L380.5 1074.8Z" fill="#0000FF"/>
<path d="M384.4 1081.4H400.6L392.5 1067.0Z" fill="#0000FF"/>
<path d="M394.3 1075.0H410.5L402.4 1060.6Z" fill="#0000FF"/>
<path d="M402.6 1069.6H418.8L410.7 1055.2Z" fill="#0000FF"/>
<path d="M409.8 1065.0H426.0L417.9 1050.6Z" fill="#0000FF"/>
<path d="M416.1 1060.9H432.3L424.2 1046.5Z" fill="#0000FF"/>
<path d="M421.8 1057.2H438.0L429.9 1042.8Z" fill="#0000FF"/>
<path d="M459.2 1032.2H475.4L467.3 1017.8Z" fill="#0000FF"/>
<path d="M481.1 1018.2H497.3L489.2 1003.8Z" fill="#0000FF"/>
<path d="M496.6 1004.5H512.8L504.7 990.1Z" fill="#0000FF"/>
<path d="M508.7 993.8H524.9L516.8 979.4Z" fill="#0000FF"/>
<path d="M518.5 987.6H534.7L526.6 973.2Z" fill="#0000FF"/>
<path d="M526.8 982.3H543.0L534.9 967.9Z" fill="#0000FF"/>
<path d="M534.0 977.8H550.2L542.1 963.4Z" fill="#0000FF"/>
<path d="M540.4 973.8H556.6L548.5 959.4Z" fill="#0000FF"/>
<path d="M546.1 970.2H562.3L554.2 955.8Z" fill="#0000FF"/>
<path d="M583.4 947.2H599.6L591.5 932.8Z" fill="#0000FF"/>
<path d="M605.3 934.8H621.5L613.4 920.4Z" fill="#0000FF"/>
<path d="M620.8 924.7H637.0L628.9 910.3Z" fill="#0000FF"/>
<path d="M632.9 917.0H649.1L641.0 902.6Z" fill="#0000FF"/>
<path d="M642.7 910.8H658.9L650.8 896.4Z" fill="#0000FF"/>
<path d="M651.0 905.5H667.2L659.1 891.1Z" fill="#0000FF"/>
<path d="M658.2 900.9H674.4L666.3 886.5Z" fill="#0000FF"/>
<path d="M664.6 896.8H680.8L672.7 882.4Z" fill="#0000FF"/>
<path d="M670.3 893.2H686.5L678.4 878.8Z" fill="#0000FF"/>
<path d="M707.7 872.2H723.9L715.8 857.8Z" fill="#0000FF"/>
<path d="M729.5 858.6H745.7L737.6 844.2Z" fill="#0000FF"/>
<path d="M745.1 849.0H761.3L753.2 834.6Z" fill="#0000FF"/>
<path d="M757.1 840.8H773.3L765.2 826.4Z" fill="#0000FF"/>
<path d="M766.9 834.2H783.1L775.0 819.8Z" fill="#0000FF"/>
<path d="M775.3 828.5H791.5L783.4 814.1Z" fill="#0000FF"/>
<path d="M782.5 823.7H798.7L790.6 809.3Z" fill="#0000FF"/>
<path d="M788.8 819.4H805.0L796.9 805.0Z" fill="#0000FF"/>
<path d="M794.5 815.5H810.7L802.6 801.1Z" fill="#0000FF"/>
<path d="M816.4 803.5H832.6L824.5 789.1Z" fill="#0000FF"/>
<path d="M831.9 792.2H848.1L840.0 777.8Z" fill="#0000FF"/>
<path d="M843.9 785.8H860.1L852.0 771.4Z" fill="#0000FF"/>
<path d="M853.8 780.6H870.0L861.9 766.2Z" fill="#0000FF"/>
<path d="M862.1 776.1H878.3L870.2 761.7Z" fill="#0000FF"/>
<path d="M869.3 772.3H885.5L877.4 757.9Z" fill="#0000FF"/>
<path d="M875.6 768.9H891.8L883.7 754.5Z" fill="#0000FF"/>
<path d="M881.3 765.9H897.5L889.4 751.5Z" fill="#0000FF"/>
<rect x="261.4" y="1174.0" width="13.9" height="13.9" fill="#800000"/>
<rect x="298.8" y="1130.5" width="13.9" height="13.9" fill="#800000"/>
<rect x="336.1" y="1101.0" width="13.9" height="13.9" fill="#800000"/>
<rect x="358.0" y="1085.0" width="13.9" height="13.9" fill="#800000"/>
<rect x="373.5" y="1074.0" width="13.9" height="13.9" fill="#800000"/>
<rect x="385.6" y="1066.3" width="13.9" height="13.9" fill="#800000"/>
<rect x="395.4" y="1059.9" width="13.9" height="13.9" fill="#800000"/>
<rect x="403.7" y="1054.5" width="13.9" height="13.9" fill="#800000"/>
<rect x="410.9" y="1049.8" width="13.9" height="13.9" fill="#800000"/>
<rect x="417.3" y="1045.7" width="13.9" height="13.9" fill="#800000"/>
<rect x="423.0" y="1042.0" width="13.9" height="13.9" fill="#800000"/>
<rect x="460.4" y="1017.0" width="13.9" height="13.9" fill="#800000"/>
<rect x="482.2" y="993.0" width="13.9" height="13.9" fill="#800000"/>
<rect x="497.8" y="985.0" width="13.9" height="13.9" fill="#800000"/>
<rect x="509.8" y="977.3" width="13.9" height="13.9" fill="#800000"/>
<rect x="519.6" y="970.9" width="13.9" height="13.9" fill="#800000"/>
<rect x="528.0" y="965.5" width="13.9" height="13.9" fill="#800000"/>
<rect x="535.2" y="960.8" width="13.9" height="13.9" fill="#800000"/>
<rect x="541.5" y="956.7" width="13.9" height="13.9" fill="#800000"/>
<rect x="547.2" y="953.0" width="13.9" height="13.9" fill="#800000"/>
<rect x="584.6" y="930.0" width="13.9" height="13.9" fill="#800000"/>
<rect x="606.5" y="918.0" width="13.9" height="13.9" fill="#800000"/>
<rect x="622.0" y="906.0" width="13.9" height="13.9" fill="#800000"/>
<rect x="634.0" y="898.5" width="13.9" height="13.9" fill="#800000"/>
<rect x="643.9" y="892.3" width="13.9" height="13.9" fill="#800000"/>
<rect x="652.2" y="887.1" width="13.9" height="13.9" fill="#800000"/>
<rect x="659.4" y="882.6" width="13.9" height="13.9" fill="#800000"/>
<rect x="665.7" y="878.6" width="13.9" height="13.9" fill="#800000"/>
<rect x="671.4" y="875.0" width="13.9" height="13.9" fill="#800000"/>
<rect x="708.8" y="853.5" width="13.9" height="13.9" fill="#800000"/>
<rect x="730.7" y="840.0" width="13.9" height="13.9" fill="#800000"/>
<rect x="746.2" y="832.0" width="13.9" height="13.9" fill="#800000"/>
<rect x="758.3" y="824.5" width="13.9" height="13.9" fill="#800000"/>
<rect x="768.1" y="818.3" width="13.9" height="13.9" fill="#800000"/>
<rect x="776.4" y="813.1" width="13.9" height="13.9" fill="#800000"/>
<rect x="783.6" y="808.6" width="13.9" height="13.9" fill="#800000"/>
<rect x="790.0" y="804.6" width="13.9" height="13.9" fill="#800000"/>
<rect x="795.7" y="801.0" width="13.9" height="13.9" fill="#800000"/>
<rect x="817.5" y="788.0" width="13.9" height="13.9" fill="#800000"/>
<rect x="833.0" y="777.0" width="13.9" height="13.9" fill="#800000"/>
<rect x="845.1" y="770.5" width="13.9" height="13.9" fill="#800000"/>
<rect x="854.9" y="765.1" width="13.9" height="13.9" fill="#800000"/>
<rect x="863.2" y="760.6" width="13.9" height="13.9" fill="#800000"/>
<rect x="870.4" y="756.6" width="13.9" height="13.9" fill="#800000"/>
<rect x="876.8" y="753.2" width="13.9" height="13.9" fill="#800000"/>
<rect x="882.5" y="750.0" width="13.9" height="13.9" fill="#800000"/>
<rect x="261.4" y="1143.0" width="13.9" height="13.9" fill="#008000"/>
<rect x="298.8" y="1125.0" width="13.9" height="13.9" fill="#008000"/>
<rect x="336.1" y="1100.3" width="13.9" height="13.9" fill="#008000"/>
<rect x="358.0" y="1083.0" width="13.9" height="13.9" fill="#008000"/>
<rect x="373.5" y="1072.5" width="13.9" height="13.9" fill="#008000"/>
<rect x="385.6" y="1064.6" width="13.9" height="13.9" fill="#008000"/>
<rect x="395.4" y="1058.2" width="13.9" height="13.9" fill="#008000"/>
<rect x="403.7" y="1052.7" width="13.9" height="13.9" fill="#008000"/>
<rect x="410.9" y="1048.0" width="13.9" height="13.9" fill="#008000"/>
<rect x="417.3" y="1043.8" width="13.9" height="13.9" fill="#008000"/>
<rect x="423.0" y="1040.0" width="13.9" height="13.9" fill="#008000"/>
<rect x="460.4" y="1016.6" width="13.9" height="13.9" fill="#008000"/>
<rect x="482.2" y="1003.8" width="13.9" height="13.9" fill="#008000"/>
<rect x="497.8" y="996.0" width="13.9" height="13.9" fill="#008000"/>
<rect x="509.8" y="978.4" width="13.9" height="13.9" fill="#008000"/>
<rect x="519.6" y="970.9" width="13.9" height="13.9" fill="#008000"/>
<rect x="528.0" y="964.5" width="13.9" height="13.9" fill="#008000"/>
<rect x="535.2" y="958.9" width="13.9" height="13.9" fill="#008000"/>
<rect x="541.5" y="954.0" width="13.9" height="13.9" fill="#008000"/>
<rect x="547.2" y="930.4" width="13.9" height="13.9" fill="#008000"/>
<rect x="584.6" y="917.5" width="13.9" height="13.9" fill="#008000"/>
<rect x="606.5" y="907.8" width="13.9" height="13.9" fill="#008000"/>
<rect x="622.0" y="901.0" width="13.9" height="13.9" fill="#008000"/>
<rect x="634.0" y="894.1" width="13.9" height="13.9" fill="#008000"/>
<rect x="643.9" y="888.4" width="13.9" height="13.9" fill="#008000"/>
<rect x="652.2" y="883.7" width="13.9" height="13.9" fill="#008000"/>
<rect x="659.4" y="879.5" width="13.9" height="13.9" fill="#008000"/>
<rect x="665.7" y="875.8" width="13.9" height="13.9" fill="#008000"/>
<rect x="671.4" y="855.8" width="13.9" height="13.9" fill="#008000"/>
<rect x="708.8" y="842.5" width="13.9" height="13.9" fill="#008000"/>
<rect x="730.7" y="833.8" width="13.9" height="13.9" fill="#008000"/>
<rect x="746.2" y="826.0" width="13.9" height="13.9" fill="#008000"/>
<rect x="758.3" y="820.3" width="13.9" height="13.9" fill="#008000"/>
<rect x="768.1" y="815.5" width="13.9" height="13.9" fill="#008000"/>
<rect x="776.4" y="811.6" width="13.9" height="13.9" fill="#008000"/>
<rect x="783.6" y="808.1" width="13.9" height="13.9" fill="#008000"/>
<rect x="790.0" y="805.0" width="13.9" height="13.9" fill="#008000"/>
<rect x="795.7" y="786.5" width="13.9" height="13.9" fill="#008000"/>
<rect x="817.5" y="777.5" width="13.9" height="13.9" fill="#008000"/>
<rect x="833.0" y="777.3" width="13.9" height="13.9" fill="#008000"/>
<rect x="845.1" y="770.9" width="13.9" height="13.9" fill="#008000"/>
<rect x="854.9" y="765.6" width="13.9" height="13.9" fill="#008000"/>
<rect x="863.2" y="761.2" width="13.9" height="13.9" fill="#008000"/>
<rect x="870.4" y="757.3" width="13.9" height="13.9" fill="#008000"/>
<rect x="876.8" y="753.9" width="13.9" height="13.9" fill="#008000"/>
<rect x="882.5" y="750.8" width="13.9" height="13.9" fill="#008000"/>
<path d="M268.3 1141.0L277.7 1150.4L268.3 1159.8L258.9 1150.4Z" fill="#808000"/>
<path d="M305.7 1115.8L315.1 1125.2L305.7 1134.6L296.3 1125.2Z" fill="#808000"/>
<path d="M343.1 1088.1L352.5 1097.5L343.1 1106.9L333.7 1097.5Z" fill="#808000"/>
<path d="M365.0 1072.0L374.4 1081.4L365.0 1090.8L355.6 1081.4Z" fill="#808000"/>
<path d="M380.5 1060.9L389.9 1070.3L380.5 1079.7L371.1 1070.3Z" fill="#808000"/>
<path d="M392.5 1052.9L401.9 1062.3L392.5 1071.7L383.1 1062.3Z" fill="#808000"/>
<path d="M402.4 1046.4L411.8 1055.8L402.4 1065.2L393.0 1055.8Z" fill="#808000"/>
<path d="M410.7 1040.9L420.1 1050.3L410.7 1059.7L401.3 1050.3Z" fill="#808000"/>
<path d="M417.9 1036.2L427.3 1045.6L417.9 1055.0L408.5 1045.6Z" fill="#808000"/>
<path d="M424.2 1032.0L433.6 1041.4L424.2 1050.8L414.8 1041.4Z" fill="#808000"/>
<path d="M429.9 1028.2L439.3 1037.6L429.9 1047.0L420.5 1037.6Z" fill="#808000"/>
<path d="M467.3 1004.3L476.7 1013.7L467.3 1023.1L457.9 1013.7Z" fill="#808000"/>
<path d="M489.2 981.1L498.6 990.5L489.2 999.9L479.8 990.5Z" fill="#808000"/>
<path d="M504.7 970.6L514.1 980.0L504.7 989.4L495.3 980.0Z" fill="#808000"/>
<path d="M516.8 962.5L526.2 971.9L516.8 981.3L507.4 971.9Z" fill="#808000"/>
<path d="M526.6 955.9L536.0 965.3L526.6 974.7L517.2 965.3Z" fill="#808000"/>
<path d="M534.9 950.3L544.3 959.7L534.9 969.1L525.5 959.7Z" fill="#808000"/>
<path d="M542.1 945.4L551.5 954.8L542.1 964.2L532.7 954.8Z" fill="#808000"/>
<path d="M548.5 941.1L557.9 950.5L548.5 959.9L539.1 950.5Z" fill="#808000"/>
<path d="M554.2 937.3L563.6 946.7L554.2 956.1L544.8 946.7Z" fill="#808000"/>
<path d="M591.5 913.8L600.9 923.2L591.5 932.6L582.1 923.2Z" fill="#808000"/>
<path d="M613.4 901.3L622.8 910.7L613.4 920.1L604.0 910.7Z" fill="#808000"/>
<path d="M628.9 891.1L638.3 900.5L628.9 909.9L619.5 900.5Z" fill="#808000"/>
<path d="M641.0 884.0L650.4 893.4L641.0 902.8L631.6 893.4Z" fill="#808000"/>
<path d="M650.8 878.2L660.2 887.6L650.8 897.0L641.4 887.6Z" fill="#808000"/>
<path d="M659.1 873.3L668.5 882.7L659.1 892.1L649.7 882.7Z" fill="#808000"/>
<path d="M666.3 869.0L675.7 878.4L666.3 887.8L656.9 878.4Z" fill="#808000"/>
<path d="M672.7 865.3L682.1 874.7L672.7 884.1L663.3 874.7Z" fill="#808000"/>
<path d="M678.4 861.9L687.8 871.3L678.4 880.7L669.0 871.3Z" fill="#808000"/>
<path d="M715.8 843.3L725.2 852.7L715.8 862.1L706.4 852.7Z" fill="#808000"/>
<path d="M737.6 830.8L747.0 840.2L737.6 849.6L728.2 840.2Z" fill="#808000"/>
<path d="M753.2 822.6L762.6 832.0L753.2 841.4L743.8 832.0Z" fill="#808000"/>
<path d="M765.2 815.4L774.6 824.8L765.2 834.2L755.8 824.8Z" fill="#808000"/>
<path d="M775.0 809.6L784.4 819.0L775.0 828.4L765.6 819.0Z" fill="#808000"/>
<path d="M783.4 804.6L792.8 814.0L783.4 823.4L774.0 814.0Z" fill="#808000"/>
<path d="M790.6 800.4L800.0 809.8L790.6 819.2L781.2 809.8Z" fill="#808000"/>
<path d="M796.9 796.6L806.3 806.0L796.9 815.4L787.5 806.0Z" fill="#808000"/>
<path d="M802.6 793.2L812.0 802.6L802.6 812.0L793.2 802.6Z" fill="#808000"/>
<path d="M824.5 781.3L833.9 790.7L824.5 800.1L815.1 790.7Z" fill="#808000"/>
<path d="M840.0 771.6L849.4 781.0L840.0 790.4L830.6 781.0Z" fill="#808000"/>
<path d="M852.0 765.8L861.4 775.2L852.0 784.6L842.6 775.2Z" fill="#808000"/>
<path d="M861.9 761.0L871.3 770.4L861.9 779.8L852.5 770.4Z" fill="#808000"/>
<path d="M870.2 756.9L879.6 766.3L870.2 775.7L860.8 766.3Z" fill="#808000"/>
<path d="M877.4 753.4L886.8 762.8L877.4 772.2L868.0 762.8Z" fill="#808000"/>
<path d="M883.7 750.4L893.1 759.8L883.7 769.2L874.3 759.8Z" fill="#808000"/>
<path d="M889.4 747.6L898.8 757.0L889.4 766.4L880.0 757.0Z" fill="#808000"/>
<path d="M173.9 1378.7h7.7M173.9 1395.5h7.7M173.9 1412.2h7.7M173.9 1429.0h7.7M173.9 1445.7h11.7M173.9 1462.5h7.7M173.9 1479.2h7.7M173.9 1496.0h7.7M173.9 1512.7h7.7M173.9 1529.5h11.7M173.9 1546.2h7.7M173.9 1563.0h7.7M173.9 1579.7h7.7M173.9 1596.5h7.7M173.9 1613.2h11.7M173.9 1630.0h7.7M173.9 1646.7h7.7M173.9 1663.5h7.7M173.9 1680.2h7.7M173.9 1697.0h11.7M173.9 1713.7h7.7M173.9 1730.5h7.7M173.9 1747.2h7.7M173.9 1764.0h7.7M173.9 1780.7h11.7M173.9 1797.5h7.7M173.9 1814.2h7.7M173.9 1831.0h7.7M173.9 1847.7h7.7M173.9 1864.5h11.7M173.9 1881.2h7.7M173.9 1898.0h7.7M173.9 1914.7h7.7M173.9 1931.5h7.7M195.5 1948.2v-7.7M217.1 1948.2v-7.7M238.6 1948.2v-7.7M260.2 1948.2v-7.7M281.8 1948.2v-11.7M303.4 1948.2v-7.7M325.0 1948.2v-7.7M346.5 1948.2v-7.7M368.1 1948.2v-7.7M389.7 1948.2v-11.7M411.3 1948.2v-7.7M432.9 1948.2v-7.7M454.4 1948.2v-7.7M476.0 1948.2v-7.7M497.6 1948.2v-11.7M519.2 1948.2v-7.7M540.8 1948.2v-7.7M562.3 1948.2v-7.7M583.9 1948.2v-7.7M605.5 1948.2v-11.7M627.1 1948.2v-7.7M648.7 1948.2v-7.7M670.2 1948.2v-7.7M691.8 1948.2v-7.7M713.4 1948.2v-11.7M735.0 1948.2v-7.7M756.6 1948.2v-7.7M778.1 1948.2v-7.7M799.7 1948.2v-7.7M821.3 1948.2v-11.7M842.9 1948.2v-7.7M864.5 1948.2v-7.7M886.0 1948.2v-7.7M907.6 1948.2v-7.7" stroke="#000" stroke-width="3.4" stroke-linecap="round" fill="none"/>
<rect x="173.9" y="1362.0" width="755.3" height="586.2" fill="none" stroke="#000" stroke-width="5.6" stroke-linejoin="round"/>
<text x="156.5" y="1374.4" class="tl" text-anchor="end">-4</text>
<text x="156.5" y="1458.1" class="tl" text-anchor="end">-6</text>
<text x="156.5" y="1541.9" class="tl" text-anchor="end">-8</text>
<text x="156.5" y="1625.6" class="tl" text-anchor="end">-10</text>
<text x="156.5" y="1709.4" class="tl" text-anchor="end">-12</text>
<text x="156.5" y="1793.1" class="tl" text-anchor="end">-14</text>
<text x="156.5" y="1876.9" class="tl" text-anchor="end">-16</text>
<text x="156.5" y="1960.6" class="tl" text-anchor="end">-18</text>
<text x="173.9" y="1999.2" class="tl" text-anchor="middle">4</text>
<text x="281.8" y="1999.2" class="tl" text-anchor="middle">6</text>
<text x="389.7" y="1999.2" class="tl" text-anchor="middle">8</text>
<text x="497.6" y="1999.2" class="tl" text-anchor="middle">10</text>
<text x="605.5" y="1999.2" class="tl" text-anchor="middle">12</text>
<text x="713.4" y="1999.2" class="tl" text-anchor="middle">14</text>
<text x="821.3" y="1999.2" class="tl" text-anchor="middle">16</text>
<text x="929.2" y="1999.2" class="tl" text-anchor="middle">18</text>
<circle cx="268.3" cy="1816.5" r="7.6" fill="#000000"/>
<circle cx="305.7" cy="1788.5" r="7.6" fill="#000000"/>
<circle cx="343.1" cy="1759.8" r="7.6" fill="#000000"/>
<circle cx="365.0" cy="1743.2" r="7.6" fill="#000000"/>
<circle cx="380.5" cy="1731.3" r="7.6" fill="#000000"/>
<circle cx="392.5" cy="1723.1" r="7.6" fill="#000000"/>
<circle cx="402.4" cy="1716.5" r="7.6" fill="#000000"/>
<circle cx="410.7" cy="1710.8" r="7.6" fill="#000000"/>
<circle cx="417.9" cy="1706.0" r="7.6" fill="#000000"/>
<circle cx="424.2" cy="1701.7" r="7.6" fill="#000000"/>
<circle cx="429.9" cy="1697.8" r="7.6" fill="#000000"/>
<circle cx="467.3" cy="1665.8" r="7.6" fill="#000000"/>
<circle cx="489.2" cy="1649.5" r="7.6" fill="#000000"/>
<circle cx="504.7" cy="1638.6" r="7.6" fill="#000000"/>
<circle cx="516.8" cy="1631.3" r="7.6" fill="#000000"/>
<circle cx="526.6" cy="1624.1" r="7.6" fill="#000000"/>
<circle cx="534.9" cy="1618.0" r="7.6" fill="#000000"/>
<circle cx="542.1" cy="1612.8" r="7.6" fill="#000000"/>
<circle cx="548.5" cy="1608.1" r="7.6" fill="#000000"/>
<circle cx="554.2" cy="1604.0" r="7.6" fill="#000000"/>
<circle cx="591.5" cy="1580.7" r="7.6" fill="#000000"/>
<circle cx="613.4" cy="1568.0" r="7.6" fill="#000000"/>
<circle cx="628.9" cy="1558.5" r="7.6" fill="#000000"/>
<circle cx="641.0" cy="1551.4" r="7.6" fill="#000000"/>
<circle cx="650.8" cy="1545.7" r="7.6" fill="#000000"/>
<circle cx="659.1" cy="1540.8" r="7.6" fill="#000000"/>
<circle cx="666.3" cy="1536.6" r="7.6" fill="#000000"/>
<circle cx="672.7" cy="1532.8" r="7.6" fill="#000000"/>
<circle cx="678.4" cy="1529.5" r="7.6" fill="#000000"/>
<circle cx="715.8" cy="1511.7" r="7.6" fill="#000000"/>
<circle cx="737.6" cy="1500.3" r="7.6" fill="#000000"/>
<circle cx="753.2" cy="1493.5" r="7.6" fill="#000000"/>
<circle cx="765.2" cy="1486.8" r="7.6" fill="#000000"/>
<circle cx="775.0" cy="1481.3" r="7.6" fill="#000000"/>
<circle cx="783.4" cy="1476.7" r="7.6" fill="#000000"/>
<circle cx="790.6" cy="1472.7" r="7.6" fill="#000000"/>
<circle cx="796.9" cy="1469.2" r="7.6" fill="#000000"/>
<circle cx="802.6" cy="1466.0" r="7.6" fill="#000000"/>
<circle cx="824.5" cy="1454.0" r="7.6" fill="#000000"/>
<circle cx="840.0" cy="1444.0" r="7.6" fill="#000000"/>
<circle cx="852.0" cy="1437.9" r="7.6" fill="#000000"/>
<circle cx="861.9" cy="1432.9" r="7.6" fill="#000000"/>
<circle cx="870.2" cy="1428.7" r="7.6" fill="#000000"/>
<circle cx="877.4" cy="1425.1" r="7.6" fill="#000000"/>
<circle cx="883.7" cy="1421.9" r="7.6" fill="#000000"/>
<circle cx="889.4" cy="1419.0" r="7.6" fill="#000000"/>
<path d="M260.2 1827.8H276.4L268.3 1842.2Z" fill="#FF0000"/>
<path d="M297.6 1823.8H313.8L305.7 1838.2Z" fill="#FF0000"/>
<path d="M335.0 1792.8H351.2L343.1 1807.2Z" fill="#FF0000"/>
<path d="M356.9 1777.5H373.1L365.0 1791.9Z" fill="#FF0000"/>
<path d="M372.4 1766.2H388.6L380.5 1780.6Z" fill="#FF0000"/>
<path d="M384.4 1757.4H400.6L392.5 1771.8Z" fill="#FF0000"/>
<path d="M394.3 1750.2H410.5L402.4 1764.6Z" fill="#FF0000"/>
<path d="M402.6 1743.8H418.8L410.7 1758.2Z" fill="#FF0000"/>
<path d="M409.8 1738.8H426.0L417.9 1753.2Z" fill="#FF0000"/>
<path d="M416.1 1734.8H432.3L424.2 1749.2Z" fill="#FF0000"/>
<path d="M421.8 1733.8H438.0L429.9 1748.2Z" fill="#FF0000"/>
<path d="M459.2 1707.8H475.4L467.3 1722.2Z" fill="#FF0000"/>
<path d="M481.1 1690.8H497.3L489.2 1705.2Z" fill="#FF0000"/>
<path d="M496.6 1682.6H512.8L504.7 1697.0Z" fill="#FF0000"/>
<path d="M508.7 1674.1H524.9L516.8 1688.5Z" fill="#FF0000"/>
<path d="M518.5 1660.8H534.7L526.6 1675.2Z" fill="#FF0000"/>
<path d="M526.8 1652.8H543.0L534.9 1667.2Z" fill="#FF0000"/>
<path d="M534.0 1647.3H550.2L542.1 1661.7Z" fill="#FF0000"/>
<path d="M540.4 1643.8H556.6L548.5 1658.2Z" fill="#FF0000"/>
<path d="M546.1 1638.3H562.3L554.2 1652.7Z" fill="#FF0000"/>
<path d="M583.4 1614.8H599.6L591.5 1629.2Z" fill="#FF0000"/>
<path d="M605.3 1602.8H621.5L613.4 1617.2Z" fill="#FF0000"/>
<path d="M620.8 1590.6H637.0L628.9 1605.0Z" fill="#FF0000"/>
<path d="M632.9 1582.6H649.1L641.0 1597.0Z" fill="#FF0000"/>
<path d="M642.7 1576.1H658.9L650.8 1590.5Z" fill="#FF0000"/>
<path d="M651.0 1570.6H667.2L659.1 1585.0Z" fill="#FF0000"/>
<path d="M658.2 1565.8H674.4L666.3 1580.2Z" fill="#FF0000"/>
<path d="M664.6 1561.6H680.8L672.7 1576.0Z" fill="#FF0000"/>
<path d="M670.3 1557.8H686.5L678.4 1572.2Z" fill="#FF0000"/>
<path d="M707.7 1534.6H723.9L715.8 1549.0Z" fill="#FF0000"/>
<path d="M729.5 1519.3H745.7L737.6 1533.7Z" fill="#FF0000"/>
<path d="M745.1 1510.3H761.3L753.2 1524.7Z" fill="#FF0000"/>
<path d="M757.1 1501.7H773.3L765.2 1516.1Z" fill="#FF0000"/>
<path d="M766.9 1494.6H783.1L775.0 1509.0Z" fill="#FF0000"/>
<path d="M775.3 1488.6H791.5L783.4 1503.0Z" fill="#FF0000"/>
<path d="M782.5 1483.4H798.7L790.6 1497.8Z" fill="#FF0000"/>
<path d="M788.8 1478.9H805.0L796.9 1493.3Z" fill="#FF0000"/>
<path d="M794.5 1474.8H810.7L802.6 1489.2Z" fill="#FF0000"/>
<path d="M816.4 1461.8H832.6L824.5 1476.2Z" fill="#FF0000"/>
<path d="M831.9 1450.8H848.1L840.0 1465.2Z" fill="#FF0000"/>
<path d="M843.9 1444.2H860.1L852.0 1458.6Z" fill="#FF0000"/>
<path d="M853.8 1438.9H870.0L861.9 1453.3Z" fill="#FF0000"/>
<path d="M862.1 1434.3H878.3L870.2 1448.7Z" fill="#FF0000"/>
<path d="M869.3 1430.4H885.5L877.4 1444.8Z" fill="#FF0000"/>
<path d="M875.6 1426.9H891.8L883.7 1441.3Z" fill="#FF0000"/>
<path d="M881.3 1423.8H897.5L889.4 1438.2Z" fill="#FF0000"/>
<path d="M260.2 1842.9H276.4L268.3 1828.5Z" fill="#0000FF"/>
<path d="M297.6 1808.2H313.8L305.7 1793.8Z" fill="#0000FF"/>
<path d="M335.0 1779.7H351.2L343.1 1765.3Z" fill="#0000FF"/>
<path d="M356.9 1764.8H373.1L365.0 1750.4Z" fill="#0000FF"/>
<path d="M372.4 1751.7H388.6L380.5 1737.3Z" fill="#0000FF"/>
<path d="M384.4 1743.5H400.6L392.5 1729.1Z" fill="#0000FF"/>
<path d="M394.3 1736.9H410.5L402.4 1722.5Z" fill="#0000FF"/>
<path d="M402.6 1731.2H418.8L410.7 1716.8Z" fill="#0000FF"/>
<path d="M409.8 1726.4H426.0L417.9 1712.0Z" fill="#0000FF"/>
<path d="M416.1 1722.1H432.3L424.2 1707.7Z" fill="#0000FF"/>
<path d="M421.8 1718.2H438.0L429.9 1703.8Z" fill="#0000FF"/>
<path d="M459.2 1692.7H475.4L467.3 1678.3Z" fill="#0000FF"/>
<path d="M481.1 1671.7H497.3L489.2 1657.3Z" fill="#0000FF"/>
<path d="M496.6 1660.8H512.8L504.7 1646.4Z" fill="#0000FF"/>
<path d="M508.7 1651.7H524.9L516.8 1637.3Z" fill="#0000FF"/>
<path d="M518.5 1644.9H534.7L526.6 1630.5Z" fill="#0000FF"/>
<path d="M526.8 1639.1H543.0L534.9 1624.7Z" fill="#0000FF"/>
<path d="M534.0 1634.1H550.2L542.1 1619.7Z" fill="#0000FF"/>
<path d="M540.4 1629.7H556.6L548.5 1615.3Z" fill="#0000FF"/>
<path d="M546.1 1625.7H562.3L554.2 1611.3Z" fill="#0000FF"/>
<path d="M583.4 1603.2H599.6L591.5 1588.8Z" fill="#0000FF"/>
<path d="M605.3 1591.2H621.5L613.4 1576.8Z" fill="#0000FF"/>
<path d="M620.8 1580.2H637.0L628.9 1565.8Z" fill="#0000FF"/>
<path d="M632.9 1573.1H649.1L641.0 1558.7Z" fill="#0000FF"/>
<path d="M642.7 1567.4H658.9L650.8 1553.0Z" fill="#0000FF"/>
<path d="M651.0 1562.5H667.2L659.1 1548.1Z" fill="#0000FF"/>
<path d="M658.2 1558.3H674.4L666.3 1543.9Z" fill="#0000FF"/>
<path d="M664.6 1554.5H680.8L672.7 1540.1Z" fill="#0000FF"/>
<path d="M670.3 1551.2H686.5L678.4 1536.8Z" fill="#0000FF"/>
<path d="M707.7 1529.8H723.9L715.8 1515.4Z" fill="#0000FF"/>
<path d="M729.5 1516.1H745.7L737.6 1501.7Z" fill="#0000FF"/>
<path d="M745.1 1508.2H761.3L753.2 1493.8Z" fill="#0000FF"/>
<path d="M757.1 1500.7H773.3L765.2 1486.3Z" fill="#0000FF"/>
<path d="M766.9 1494.5H783.1L775.0 1480.1Z" fill="#0000FF"/>
<path d="M775.3 1489.3H791.5L783.4 1474.9Z" fill="#0000FF"/>
<path d="M782.5 1484.7H798.7L790.6 1470.3Z" fill="#0000FF"/>
<path d="M788.8 1480.8H805.0L796.9 1466.4Z" fill="#0000FF"/>
<path d="M794.5 1477.2H810.7L802.6 1462.8Z" fill="#0000FF"/>
<path d="M816.4 1462.2H832.6L824.5 1447.8Z" fill="#0000FF"/>
<path d="M831.9 1455.2H848.1L840.0 1440.8Z" fill="#0000FF"/>
<path d="M843.9 1449.4H860.1L852.0 1435.0Z" fill="#0000FF"/>
<path d="M853.8 1444.6H870.0L861.9 1430.2Z" fill="#0000FF"/>
<path d="M862.1 1440.5H878.3L870.2 1426.1Z" fill="#0000FF"/>
<path d="M869.3 1437.0H885.5L877.4 1422.6Z" fill="#0000FF"/>
<path d="M875.6 1434.0H891.8L883.7 1419.6Z" fill="#0000FF"/>
<path d="M881.3 1431.2H897.5L889.4 1416.8Z" fill="#0000FF"/>
<rect x="261.4" y="1828.5" width="13.9" height="13.9" fill="#800000"/>
<rect x="298.8" y="1795.5" width="13.9" height="13.9" fill="#800000"/>
<rect x="336.1" y="1766.5" width="13.9" height="13.9" fill="#800000"/>
<rect x="358.0" y="1751.6" width="13.9" height="13.9" fill="#800000"/>
<rect x="373.5" y="1738.5" width="13.9" height="13.9" fill="#800000"/>
<rect x="385.6" y="1730.4" width="13.9" height="13.9" fill="#800000"/>
<rect x="395.4" y="1723.7" width="13.9" height="13.9" fill="#800000"/>
<rect x="403.7" y="1718.1" width="13.9" height="13.9" fill="#800000"/>
<rect x="410.9" y="1713.2" width="13.9" height="13.9" fill="#800000"/>
<rect x="417.3" y="1708.9" width="13.9" height="13.9" fill="#800000"/>
<rect x="423.0" y="1705.0" width="13.9" height="13.9" fill="#800000"/>
<rect x="460.4" y="1679.5" width="13.9" height="13.9" fill="#800000"/>
<rect x="482.2" y="1658.5" width="13.9" height="13.9" fill="#800000"/>
<rect x="497.8" y="1647.6" width="13.9" height="13.9" fill="#800000"/>
<rect x="509.8" y="1638.5" width="13.9" height="13.9" fill="#800000"/>
<rect x="519.6" y="1631.7" width="13.9" height="13.9" fill="#800000"/>
<rect x="528.0" y="1625.9" width="13.9" height="13.9" fill="#800000"/>
<rect x="535.2" y="1620.9" width="13.9" height="13.9" fill="#800000"/>
<rect x="541.5" y="1616.5" width="13.9" height="13.9" fill="#800000"/>
<rect x="547.2" y="1612.5" width="13.9" height="13.9" fill="#800000"/>
<rect x="584.6" y="1588.0" width="13.9" height="13.9" fill="#800000"/>
<rect x="606.5" y="1577.0" width="13.9" height="13.9" fill="#800000"/>
<rect x="622.0" y="1567.3" width="13.9" height="13.9" fill="#800000"/>
<rect x="634.0" y="1559.7" width="13.9" height="13.9" fill="#800000"/>
<rect x="643.9" y="1553.4" width="13.9" height="13.9" fill="#800000"/>
<rect x="652.2" y="1548.2" width="13.9" height="13.9" fill="#800000"/>
<rect x="659.4" y="1543.6" width="13.9" height="13.9" fill="#800000"/>
<rect x="665.7" y="1539.6" width="13.9" height="13.9" fill="#800000"/>
<rect x="671.4" y="1536.0" width="13.9" height="13.9" fill="#800000"/>
<rect x="708.8" y="1514.0" width="13.9" height="13.9" fill="#800000"/>
<rect x="730.7" y="1502.0" width="13.9" height="13.9" fill="#800000"/>
<rect x="746.2" y="1492.3" width="13.9" height="13.9" fill="#800000"/>
<rect x="758.3" y="1484.7" width="13.9" height="13.9" fill="#800000"/>
<rect x="768.1" y="1478.4" width="13.9" height="13.9" fill="#800000"/>
<rect x="776.4" y="1473.2" width="13.9" height="13.9" fill="#800000"/>
<rect x="783.6" y="1468.6" width="13.9" height="13.9" fill="#800000"/>
<rect x="790.0" y="1464.6" width="13.9" height="13.9" fill="#800000"/>
<rect x="795.7" y="1461.0" width="13.9" height="13.9" fill="#800000"/>
<rect x="817.5" y="1448.0" width="13.9" height="13.9" fill="#800000"/>
<rect x="833.0" y="1440.0" width="13.9" height="13.9" fill="#800000"/>
<rect x="845.1" y="1434.0" width="13.9" height="13.9" fill="#800000"/>
<rect x="854.9" y="1429.0" width="13.9" height="13.9" fill="#800000"/>
<rect x="863.2" y="1424.8" width="13.9" height="13.9" fill="#800000"/>
<rect x="870.4" y="1421.1" width="13.9" height="13.9" fill="#800000"/>
<rect x="876.8" y="1417.9" width="13.9" height="13.9" fill="#800000"/>
<rect x="882.5" y="1415.0" width="13.9" height="13.9" fill="#800000"/>
<rect x="261.4" y="1860.8" width="13.9" height="13.9" fill="#008000"/>
<rect x="298.8" y="1809.5" width="13.9" height="13.9" fill="#008000"/>
<rect x="336.1" y="1784.6" width="13.9" height="13.9" fill="#008000"/>
<rect x="358.0" y="1772.0" width="13.9" height="13.9" fill="#008000"/>
<rect x="373.5" y="1757.6" width="13.9" height="13.9" fill="#008000"/>
<rect x="385.6" y="1750.0" width="13.9" height="13.9" fill="#008000"/>
<rect x="395.4" y="1743.0" width="13.9" height="13.9" fill="#008000"/>
<rect x="403.7" y="1738.0" width="13.9" height="13.9" fill="#008000"/>
<rect x="410.9" y="1733.0" width="13.9" height="13.9" fill="#008000"/>
<rect x="417.3" y="1733.0" width="13.9" height="13.9" fill="#008000"/>
<rect x="423.0" y="1732.5" width="13.9" height="13.9" fill="#008000"/>
<rect x="460.4" y="1710.0" width="13.9" height="13.9" fill="#008000"/>
<rect x="482.2" y="1691.2" width="13.9" height="13.9" fill="#008000"/>
<rect x="497.8" y="1682.3" width="13.9" height="13.9" fill="#008000"/>
<rect x="509.8" y="1673.8" width="13.9" height="13.9" fill="#008000"/>
<rect x="519.6" y="1654.8" width="13.9" height="13.9" fill="#008000"/>
<rect x="528.0" y="1648.0" width="13.9" height="13.9" fill="#008000"/>
<rect x="535.2" y="1641.0" width="13.9" height="13.9" fill="#008000"/>
<rect x="541.5" y="1638.0" width="13.9" height="13.9" fill="#008000"/>
<rect x="547.2" y="1636.8" width="13.9" height="13.9" fill="#008000"/>
<rect x="584.6" y="1610.6" width="13.9" height="13.9" fill="#008000"/>
<rect x="606.5" y="1598.8" width="13.9" height="13.9" fill="#008000"/>
<rect x="622.0" y="1586.8" width="13.9" height="13.9" fill="#008000"/>
<rect x="634.0" y="1579.1" width="13.9" height="13.9" fill="#008000"/>
<rect x="643.9" y="1572.8" width="13.9" height="13.9" fill="#008000"/>
<rect x="652.2" y="1567.4" width="13.9" height="13.9" fill="#008000"/>
<rect x="659.4" y="1562.8" width="13.9" height="13.9" fill="#008000"/>
<rect x="665.7" y="1558.7" width="13.9" height="13.9" fill="#008000"/>
<rect x="671.4" y="1555.0" width="13.9" height="13.9" fill="#008000"/>
<rect x="708.8" y="1532.1" width="13.9" height="13.9" fill="#008000"/>
<rect x="730.7" y="1517.5" width="13.9" height="13.9" fill="#008000"/>
<rect x="746.2" y="1508.0" width="13.9" height="13.9" fill="#008000"/>
<rect x="758.3" y="1499.7" width="13.9" height="13.9" fill="#008000"/>
<rect x="768.1" y="1492.8" width="13.9" height="13.9" fill="#008000"/>
<rect x="776.4" y="1487.0" width="13.9" height="13.9" fill="#008000"/>
<rect x="783.6" y="1482.0" width="13.9" height="13.9" fill="#008000"/>
<rect x="790.0" y="1477.6" width="13.9" height="13.9" fill="#008000"/>
<rect x="795.7" y="1473.6" width="13.9" height="13.9" fill="#008000"/>
<rect x="817.5" y="1461.0" width="13.9" height="13.9" fill="#008000"/>
<rect x="833.0" y="1449.0" width="13.9" height="13.9" fill="#008000"/>
<rect x="845.1" y="1442.6" width="13.9" height="13.9" fill="#008000"/>
<rect x="854.9" y="1437.3" width="13.9" height="13.9" fill="#008000"/>
<rect x="863.2" y="1432.9" width="13.9" height="13.9" fill="#008000"/>
<rect x="870.4" y="1429.0" width="13.9" height="13.9" fill="#008000"/>
<rect x="876.8" y="1425.6" width="13.9" height="13.9" fill="#008000"/>
<rect x="882.5" y="1422.5" width="13.9" height="13.9" fill="#008000"/>
<path d="M268.3 1802.8L277.7 1812.2L268.3 1821.6L258.9 1812.2Z" fill="#808000"/>
<path d="M305.7 1785.4L315.1 1794.8L305.7 1804.2L296.3 1794.8Z" fill="#808000"/>
<path d="M343.1 1758.4L352.5 1767.8L343.1 1777.2L333.7 1767.8Z" fill="#808000"/>
<path d="M365.0 1741.6L374.4 1751.0L365.0 1760.4L355.6 1751.0Z" fill="#808000"/>
<path d="M380.5 1730.3L389.9 1739.7L380.5 1749.1L371.1 1739.7Z" fill="#808000"/>
<path d="M392.5 1722.1L401.9 1731.5L392.5 1740.9L383.1 1731.5Z" fill="#808000"/>
<path d="M402.4 1715.4L411.8 1724.8L402.4 1734.2L393.0 1724.8Z" fill="#808000"/>
<path d="M410.7 1709.7L420.1 1719.1L410.7 1728.5L401.3 1719.1Z" fill="#808000"/>
<path d="M417.9 1704.8L427.3 1714.2L417.9 1723.6L408.5 1714.2Z" fill="#808000"/>
<path d="M424.2 1700.5L433.6 1709.9L424.2 1719.3L414.8 1709.9Z" fill="#808000"/>
<path d="M429.9 1696.6L439.3 1706.0L429.9 1715.4L420.5 1706.0Z" fill="#808000"/>
<path d="M467.3 1670.9L476.7 1680.3L467.3 1689.7L457.9 1680.3Z" fill="#808000"/>
<path d="M489.2 1651.6L498.6 1661.0L489.2 1670.4L479.8 1661.0Z" fill="#808000"/>
<path d="M504.7 1641.1L514.1 1650.5L504.7 1659.9L495.3 1650.5Z" fill="#808000"/>
<path d="M516.8 1632.9L526.2 1642.3L516.8 1651.7L507.4 1642.3Z" fill="#808000"/>
<path d="M526.6 1626.3L536.0 1635.7L526.6 1645.1L517.2 1635.7Z" fill="#808000"/>
<path d="M534.9 1620.6L544.3 1630.0L534.9 1639.4L525.5 1630.0Z" fill="#808000"/>
<path d="M542.1 1615.8L551.5 1625.2L542.1 1634.6L532.7 1625.2Z" fill="#808000"/>
<path d="M548.5 1611.5L557.9 1620.9L548.5 1630.3L539.1 1620.9Z" fill="#808000"/>
<path d="M554.2 1607.6L563.6 1617.0L554.2 1626.4L544.8 1617.0Z" fill="#808000"/>
<path d="M591.5 1584.4L600.9 1593.8L591.5 1603.2L582.1 1593.8Z" fill="#808000"/>
<path d="M613.4 1571.3L622.8 1580.7L613.4 1590.1L604.0 1580.7Z" fill="#808000"/>
<path d="M628.9 1560.6L638.3 1570.0L628.9 1579.4L619.5 1570.0Z" fill="#808000"/>
<path d="M641.0 1553.4L650.4 1562.8L641.0 1572.2L631.6 1562.8Z" fill="#808000"/>
<path d="M650.8 1547.5L660.2 1556.9L650.8 1566.3L641.4 1556.9Z" fill="#808000"/>
<path d="M659.1 1542.5L668.5 1551.9L659.1 1561.3L649.7 1551.9Z" fill="#808000"/>
<path d="M666.3 1538.1L675.7 1547.5L666.3 1556.9L656.9 1547.5Z" fill="#808000"/>
<path d="M672.7 1534.3L682.1 1543.7L672.7 1553.1L663.3 1543.7Z" fill="#808000"/>
<path d="M678.4 1530.9L687.8 1540.3L678.4 1549.7L669.0 1540.3Z" fill="#808000"/>
<path d="M715.8 1509.9L725.2 1519.3L715.8 1528.7L706.4 1519.3Z" fill="#808000"/>
<path d="M737.6 1497.4L747.0 1506.8L737.6 1516.2L728.2 1506.8Z" fill="#808000"/>
<path d="M753.2 1489.1L762.6 1498.5L753.2 1507.9L743.8 1498.5Z" fill="#808000"/>
<path d="M765.2 1481.2L774.6 1490.6L765.2 1500.0L755.8 1490.6Z" fill="#808000"/>
<path d="M775.0 1474.7L784.4 1484.1L775.0 1493.5L765.6 1484.1Z" fill="#808000"/>
<path d="M783.4 1469.3L792.8 1478.7L783.4 1488.1L774.0 1478.7Z" fill="#808000"/>
<path d="M790.6 1464.5L800.0 1473.9L790.6 1483.3L781.2 1473.9Z" fill="#808000"/>
<path d="M796.9 1460.3L806.3 1469.7L796.9 1479.1L787.5 1469.7Z" fill="#808000"/>
<path d="M802.6 1456.6L812.0 1466.0L802.6 1475.4L793.2 1466.0Z" fill="#808000"/>
<path d="M824.5 1444.8L833.9 1454.2L824.5 1463.6L815.1 1454.2Z" fill="#808000"/>
<path d="M840.0 1434.6L849.4 1444.0L840.0 1453.4L830.6 1444.0Z" fill="#808000"/>
<path d="M852.0 1428.7L861.4 1438.1L852.0 1447.5L842.6 1438.1Z" fill="#808000"/>
<path d="M861.9 1423.9L871.3 1433.3L861.9 1442.7L852.5 1433.3Z" fill="#808000"/>
<path d="M870.2 1419.8L879.6 1429.2L870.2 1438.6L860.8 1429.2Z" fill="#808000"/>
<path d="M877.4 1416.3L886.8 1425.7L877.4 1435.1L868.0 1425.7Z" fill="#808000"/>
<path d="M883.7 1413.2L893.1 1422.6L883.7 1432.0L874.3 1422.6Z" fill="#808000"/>
<path d="M889.4 1410.4L898.8 1419.8L889.4 1429.2L880.0 1419.8Z" fill="#808000"/>
<circle cx="203.4" cy="50.0" r="7.6" fill="#000000"/>
<text transform="translate(274 65.8) scale(1 1.08)" class="lg" fill="#000000">0 kGy</text>
<path d="M195.3 97.1H211.5L203.4 111.5Z" fill="#FF0000"/>
<text transform="translate(274 117.1) scale(1 1.08)" class="lg" fill="#EE0000">50 kGy</text>
<path d="M195.3 159.3H211.5L203.4 144.9Z" fill="#0000FF"/>
<text transform="translate(274 168.4) scale(1 1.08)" class="lg" fill="#0A00B4">100 kGy</text>
<rect x="196.5" y="198.4" width="13.9" height="13.9" fill="#800000"/>
<text transform="translate(274 219.7) scale(1 1.08)" class="lg" fill="#680000">150 kGy</text>
<rect x="196.5" y="250.2" width="13.9" height="13.9" fill="#008000"/>
<text transform="translate(274 271.0) scale(1 1.08)" class="lg" fill="#0A6406">200 kGy</text>
<path d="M203.4 299.6L212.8 309.0L203.4 318.4L194.0 309.0Z" fill="#808000"/>
<text transform="translate(274 322.3) scale(1 1.08)" class="lg" fill="#626200">300 kGy</text>
<text x="809.8" y="575" class="pl">(A)</text>
<text x="802.4" y="1245" class="pl">(B)</text>
<text x="803" y="1908" class="pl">(C)</text>
<text transform="translate(49.5 316.2) rotate(-90)" class="at" text-anchor="middle">Ln [<tspan class="sg">&#963;</tspan><tspan class="sub" dx="3.5" dy="17">AC</tspan><tspan dy="-17"> (S/cm)]</tspan></text>
<text transform="translate(49.5 986.2) rotate(-90)" class="at" text-anchor="middle">Ln [<tspan class="sg">&#963;</tspan><tspan class="sub" dx="3.5" dy="17">AC</tspan><tspan dy="-17"> (S/cm)]</tspan></text>
<text transform="translate(49.5 1656.2) rotate(-90)" class="at" text-anchor="middle">Ln [<tspan class="sg">&#963;</tspan><tspan class="sub" dx="3.5" dy="17">AC</tspan><tspan dy="-17"> (S/cm)]</tspan></text>
<text x="556" y="2064" class="at" style="font-size:52px" text-anchor="middle">Ln [<tspan class="sg">&#969;</tspan> (Hz)]</text>
</svg>
</body></html>
